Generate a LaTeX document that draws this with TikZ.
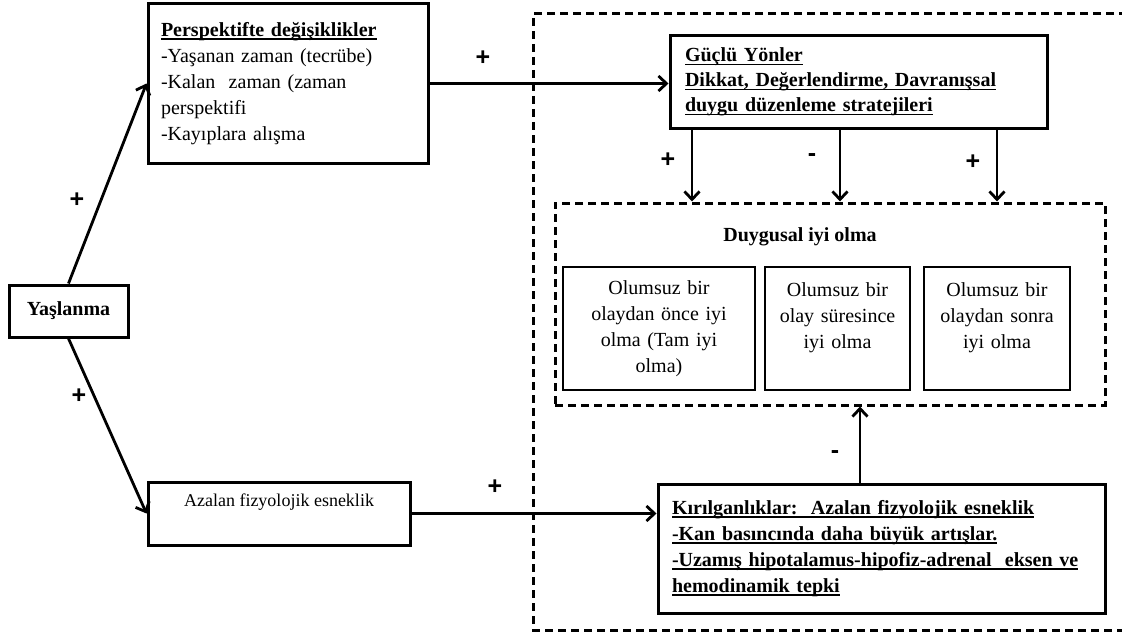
\documentclass[tikz,border=0pt]{standalone}
\usepackage{fontspec}
\setmainfont{Liberation Serif}
\newfontfamily\plusfont{Liberation Sans}
\usetikzlibrary{arrows.meta,calc}
\newcommand\ulx[1]{\leavevmode\setbox0\hbox{#1}\rlap{\rule[-3.5pt]{\wd0}{1.5pt}}\box0}
\begin{document}
\begin{tikzpicture}[x=1pt,y=-1pt,
  every node/.style={font=\fontsize{20}{26}\selectfont},
  box/.style={draw,line width=3pt,inner sep=0pt},
  sb/.style={draw,line width=1.4pt,inner sep=0pt,minimum height=123pt,align=center},
  dsh/.style={line width=3pt,dash pattern=on 8pt off 5pt},
  arr/.style={line width=2.8pt,-{Straight Barb[length=8pt,width=15pt]}},
  pl/.style={font=\plusfont\bfseries\fontsize{25}{25}\selectfont,inner sep=0pt}]
\useasboundingbox (0,0) rectangle (1122,634);
\fill[white] (0,0) rectangle (1122,634);
% outer dashed region (open to the right edge)
\draw[dsh] (1140,14) -- (533,14) -- (533,630) -- (1140,630);
% nodes
\node[box,minimum width=119pt,minimum height=52pt,font=\fontsize{20}{26}\selectfont\bfseries] (yas) at (68.5,311) {Yaşlanma};
\node[box,minimum width=280pt,minimum height=159pt,text width=254pt,align=left] (per) at (288,83.5)
  {\ulx{\textbf{Perspektifte değişiklikler}}\\-Yaşanan zaman (tecrübe)\\-Kalan\ \ zaman (zaman\\perspektifi\\-Kayıplara alışma};
\node[box,minimum width=262pt,minimum height=63pt,align=center,font=\fontsize{18}{26}\selectfont] (az) at (279,513.5)
  {Azalan fizyolojik esneklik\\\mbox{}};
\node[box,minimum width=377pt,minimum height=92pt,text width=347pt,align=left,font=\fontsize{20}{25}\selectfont\bfseries] (guc) at (858.5,82)
  {\ulx{Güçlü Yönler}\\\ulx{Dikkat, Değerlendirme, Davranışsal}\\\ulx{duygu düzenleme stratejileri}};
\node[box,minimum width=447pt,minimum height=129pt,text width=419pt,align=left,font=\fontsize{20}{26}\selectfont\bfseries] (kir) at (881.5,548.5)
  {\ulx{Kırılganlıklar:\ \ Azalan fizyolojik esneklik}\\\ulx{-Kan basıncında daha büyük artışlar.}\\\ulx{-Uzamış hipotalamus-hipofiz-adrenal\ \ eksen ve}\\\ulx{hemodinamik tepki}};
\node[draw,dsh,minimum width=550pt,minimum height=202pt] (duy) at (830,304) {};
\node[font=\fontsize{20}{26}\selectfont\bfseries] (duyt) at (800,237) {Duygusal iyi olma};
\node[sb,minimum width=192pt,text width=180pt] (b1) at (659,328.5) {Olumsuz bir\\olaydan önce iyi\\olma (Tam iyi\\olma)};
\node[sb,minimum width=145pt,text width=140pt] (b2) at (837.5,328.5) {Olumsuz bir\\olay süresince\\iyi olma\\\mbox{}};
\node[sb,minimum width=146pt,text width=140pt] (b3) at (997,328.5) {Olumsuz bir\\olaydan sonra\\iyi olma\\\mbox{}};
% helper coordinates
\coordinate (c1) at (692,0);
\coordinate (c2) at (840,0);
\coordinate (c3) at (997,0);
\coordinate (kx) at (860,0);
% connectors
\draw[arr] (yas.north) -- (per.west);
\draw[arr] (yas.south) -- (az.west);
\draw[arr] (per.east) -- (per.east -| guc.west);
\draw[arr] (az.east) -- (az.east -| kir.west);
\draw[arr] (guc.south -| c1) -- (duy.north -| c1);
\draw[arr] (guc.south -| c2) -- (duy.north -| c2);
\draw[arr] (guc.south -| c3) -- (duy.north -| c3);
\draw[arr] (kir.north -| kx) -- (duy.south -| kx);
% signs
\node[pl] (s1) at (77,200) {+};
\node[pl] (s2) at (79,396) {+};
\node[pl] (s3) at (483,58) {+};
\node[pl] (s4) at (495,487) {+};
\node[pl] (s5) at (668,160) {+};
\node[pl] (s6) at (812,158) {-};
\node[pl] (s7) at (973,162) {+};
\node[pl] (s8) at (835,455) {-};
\end{tikzpicture}
\end{document}
